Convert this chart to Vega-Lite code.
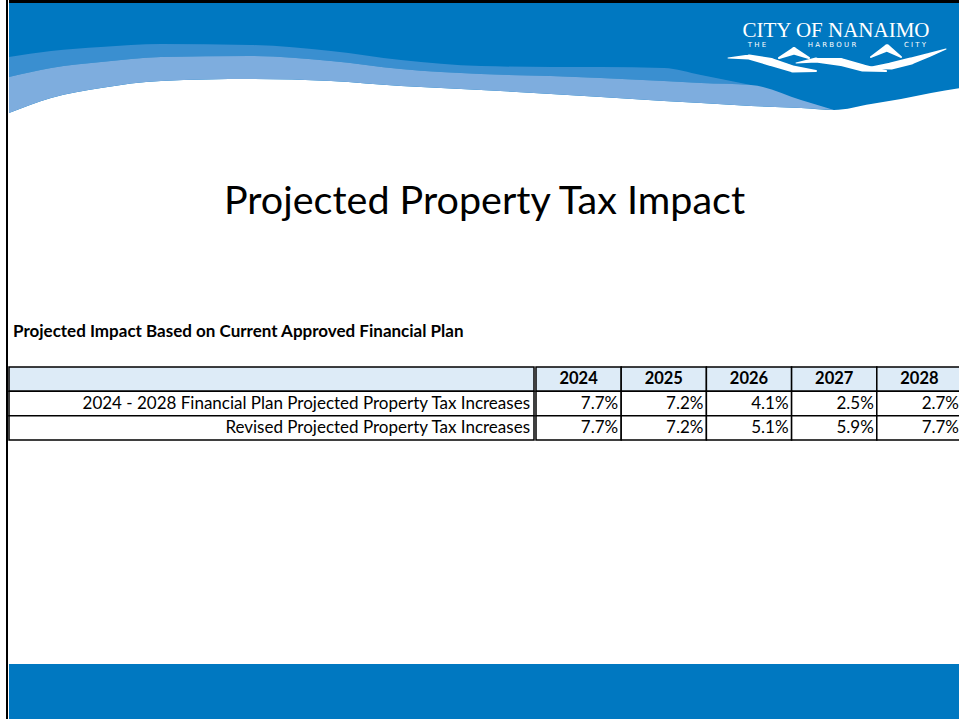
{
  "$schema": "https://vega.github.io/schema/vega-lite/v6.json",
  "padding": {"left": 6, "top": 0, "right": 0, "bottom": 0},
  "background": "white",
  "spacing": 0,
  "config": {"view": {"stroke": null}, "concat": {"spacing": 0}, "text": {"font": "Lato"}},
  "datasets": {
    "tax": [
      {"series": "2024 - 2028 Financial Plan Projected Property Tax Increases", "year": "2024", "value": 0.077},
      {"series": "2024 - 2028 Financial Plan Projected Property Tax Increases", "year": "2025", "value": 0.072},
      {"series": "2024 - 2028 Financial Plan Projected Property Tax Increases", "year": "2026", "value": 0.041},
      {"series": "2024 - 2028 Financial Plan Projected Property Tax Increases", "year": "2027", "value": 0.025},
      {"series": "2024 - 2028 Financial Plan Projected Property Tax Increases", "year": "2028", "value": 0.027},
      {"series": "Revised Projected Property Tax Increases", "year": "2024", "value": 0.077},
      {"series": "Revised Projected Property Tax Increases", "year": "2025", "value": 0.072},
      {"series": "Revised Projected Property Tax Increases", "year": "2026", "value": 0.051},
      {"series": "Revised Projected Property Tax Increases", "year": "2027", "value": 0.059},
      {"series": "Revised Projected Property Tax Increases", "year": "2028", "value": 0.077}
    ],
    "bands": [
      {"band": "medium", "x": 8, "y": 57, "y2": 77},
      {"band": "medium", "x": 50, "y": 51, "y2": 68},
      {"band": "medium", "x": 100, "y": 47, "y2": 62},
      {"band": "medium", "x": 160, "y": 44, "y2": 57},
      {"band": "medium", "x": 250, "y": 45, "y2": 56},
      {"band": "medium", "x": 330, "y": 51, "y2": 61},
      {"band": "medium", "x": 400, "y": 60, "y2": 69},
      {"band": "medium", "x": 480, "y": 66, "y2": 74},
      {"band": "medium", "x": 550, "y": 67, "y2": 76},
      {"band": "medium", "x": 600, "y": 67, "y2": 78},
      {"band": "medium", "x": 663, "y": 68, "y2": 81},
      {"band": "medium", "x": 700, "y": 75, "y2": 83},
      {"band": "medium", "x": 730, "y": 81, "y2": 84},
      {"band": "medium", "x": 750, "y": 85, "y2": 85},
      {"band": "light", "x": 8, "y": 77, "y2": 113},
      {"band": "light", "x": 50, "y": 68, "y2": 98},
      {"band": "light", "x": 100, "y": 62, "y2": 88},
      {"band": "light", "x": 160, "y": 57, "y2": 81},
      {"band": "light", "x": 250, "y": 56, "y2": 79},
      {"band": "light", "x": 330, "y": 61, "y2": 81},
      {"band": "light", "x": 400, "y": 69, "y2": 86},
      {"band": "light", "x": 480, "y": 74, "y2": 90},
      {"band": "light", "x": 550, "y": 76, "y2": 94},
      {"band": "light", "x": 600, "y": 78, "y2": 97},
      {"band": "light", "x": 663, "y": 81, "y2": 101},
      {"band": "light", "x": 700, "y": 83, "y2": 103},
      {"band": "light", "x": 750, "y": 85, "y2": 106},
      {"band": "light", "x": 800, "y": 100, "y2": 108},
      {"band": "light", "x": 833, "y": 110, "y2": 110}
    ],
    "shore": [
      {"x": 8, "y": 113}, {"x": 50, "y": 98}, {"x": 100, "y": 88}, {"x": 160, "y": 81},
      {"x": 250, "y": 79}, {"x": 330, "y": 81}, {"x": 400, "y": 86}, {"x": 480, "y": 90},
      {"x": 550, "y": 94}, {"x": 600, "y": 97}, {"x": 663, "y": 101}, {"x": 700, "y": 103},
      {"x": 750, "y": 106}, {"x": 800, "y": 108}, {"x": 833, "y": 110}, {"x": 870, "y": 104},
      {"x": 900, "y": 99}, {"x": 930, "y": 93}, {"x": 959, "y": 88}
    ],
    "waves": [
      {"id": "w1", "x": 727, "y": 58, "w": 1}, {"id": "w1", "x": 748, "y": 57, "w": 5},
      {"id": "w1", "x": 770, "y": 62, "w": 8}, {"id": "w1", "x": 792, "y": 69, "w": 7},
      {"id": "w1", "x": 815, "y": 71, "w": 2},
      {"id": "w2", "x": 795, "y": 63, "w": 1}, {"id": "w2", "x": 815, "y": 60, "w": 5},
      {"id": "w2", "x": 840, "y": 62, "w": 8}, {"id": "w2", "x": 862, "y": 68, "w": 7},
      {"id": "w2", "x": 885, "y": 71, "w": 2},
      {"id": "w3", "x": 868, "y": 68, "w": 2}, {"id": "w3", "x": 890, "y": 66, "w": 7},
      {"id": "w3", "x": 910, "y": 61, "w": 7}, {"id": "w3", "x": 928, "y": 55, "w": 4},
      {"id": "w3", "x": 945, "y": 49, "w": 1},
      {"id": "p1", "x": 778, "y": 58, "w": 2}, {"id": "p1", "x": 793, "y": 51, "w": 7},
      {"id": "p1", "x": 808, "y": 58, "w": 2},
      {"id": "p2", "x": 870, "y": 57, "w": 2}, {"id": "p2", "x": 886, "y": 48, "w": 7},
      {"id": "p2", "x": 900, "y": 57, "w": 2}
    ],
    "logo": [
      {"x": 835, "y": 37, "text": "CITY OF NANAIMO", "kind": "name"},
      {"x": 756, "y": 47, "text": "T H E", "kind": "tag"},
      {"x": 831, "y": 47, "text": "H A R B O U R", "kind": "tag"},
      {"x": 914, "y": 47, "text": "C I T Y", "kind": "tag"}
    ]
  },
  "hconcat": [
    {
      "width": 2, "height": 719,
      "data": {"values": [{}]},
      "mark": {"type": "rect", "color": "#000000"},
      "encoding": {}
    },
    {
      "spacing": 0,
      "vconcat": [
        {
          "width": 951, "height": 3,
          "data": {"values": [{}]},
          "mark": {"type": "rect", "color": "#000000"},
          "encoding": {}
        },
        {
          "width": 951, "height": 122,
          "view": {"fill": "#0078C1"},
          "layer": [
            {
              "data": {"name": "shore"},
              "mark": {"type": "area", "color": "white", "interpolate": "monotone", "clip": true},
              "encoding": {
                "x": {"field": "x", "type": "quantitative", "scale": {"domain": [8, 959], "nice": false, "zero": false}, "axis": null},
                "y": {"field": "y", "type": "quantitative", "scale": {"domain": [3, 125], "nice": false, "zero": false, "reverse": true}, "axis": null},
                "y2": {"datum": 125}
              }
            },
            {
              "data": {"name": "bands"},
              "mark": {"type": "area", "interpolate": "monotone", "clip": true},
              "encoding": {
                "x": {"field": "x", "type": "quantitative", "axis": null},
                "y": {"field": "y", "type": "quantitative", "stack": null, "axis": null},
                "y2": {"field": "y2"},
                "color": {"field": "band", "type": "nominal", "scale": {"domain": ["medium", "light"], "range": ["#3A8FD0", "#7EADDE"]}, "legend": null}
              }
            },
            {
              "data": {"name": "waves"},
              "mark": {"type": "trail", "color": "white", "clip": true},
              "encoding": {
                "x": {"field": "x", "type": "quantitative", "axis": null},
                "y": {"field": "y", "type": "quantitative", "axis": null},
                "detail": {"field": "id"},
                "size": {"field": "w", "type": "quantitative", "scale": null, "legend": null}
              }
            },
            {
              "data": {"name": "logo"},
              "transform": [{"filter": "datum.kind == 'name'"}],
              "mark": {"type": "text", "color": "white", "font": "Liberation Serif", "fontSize": 21, "align": "center", "baseline": "alphabetic"},
              "encoding": {
                "x": {"field": "x", "type": "quantitative", "axis": null},
                "y": {"field": "y", "type": "quantitative", "axis": null},
                "text": {"field": "text"}
              }
            },
            {
              "data": {"name": "logo"},
              "transform": [{"filter": "datum.kind == 'tag'"}],
              "mark": {"type": "text", "color": "white", "font": "DejaVu Sans", "fontSize": 7, "align": "center", "baseline": "alphabetic"},
              "encoding": {
                "x": {"field": "x", "type": "quantitative", "axis": null},
                "y": {"field": "y", "type": "quantitative", "axis": null},
                "text": {"field": "text"}
              }
            }
          ]
        },
        {
          "width": 951, "height": 154,
          "data": {"values": [{}]},
          "mark": {"type": "text", "font": "Lato", "fontSize": 39.5, "align": "center", "baseline": "middle", "color": "#000000"},
          "encoding": {"text": {"value": "Projected Property Tax Impact"}}
        },
        {
          "width": 951, "height": 87,
          "data": {"values": [{}]},
          "mark": {"type": "text", "font": "Lato", "fontSize": 17, "fontWeight": "bold", "align": "left", "baseline": "alphabetic", "dx": 4, "dy": -29, "color": "#000000"},
          "encoding": {
            "x": {"value": 0},
            "y": {"value": "height"},
            "text": {"value": "Projected Impact Based on Current Approved Financial Plan"}
          }
        },
        {
          "spacing": 0,
          "hconcat": [
            {
              "width": 525, "height": 73,
              "data": {"name": "tax"},
              "layer": [
                {
                  "transform": [{"aggregate": [{"op": "count", "as": "n"}]}],
                  "mark": {"type": "rect", "fill": "#DDEBF7", "stroke": "#000000", "strokeWidth": 1.5},
                  "encoding": {
                    "y": {"datum": "Year", "type": "nominal", "scale": {"domain": ["Year", "2024 - 2028 Financial Plan Projected Property Tax Increases", "Revised Projected Property Tax Increases"], "paddingInner": 0, "paddingOuter": 0}, "axis": null}
                  }
                },
                {
                  "transform": [{"aggregate": [{"op": "count", "as": "n"}], "groupby": ["series"]}],
                  "mark": {"type": "rect", "fill": "#FFFFFF", "stroke": "#000000", "strokeWidth": 1.5},
                  "encoding": {
                    "y": {"field": "series", "type": "nominal", "axis": null}
                  }
                },
                {
                  "transform": [{"aggregate": [{"op": "count", "as": "n"}], "groupby": ["series"]}],
                  "mark": {"type": "text", "font": "Lato", "fontSize": 17, "align": "right", "baseline": "middle", "dx": -4, "color": "#000000"},
                  "encoding": {
                    "x": {"value": "width"},
                    "y": {"field": "series", "type": "nominal", "bandPosition": 0.5, "axis": null},
                    "text": {"field": "series"}
                  }
                }
              ]
            },
            {
              "width": 426, "height": 73,
              "data": {"name": "tax"},
              "layer": [
                {
                  "transform": [{"aggregate": [{"op": "count", "as": "n"}], "groupby": ["year"]}],
                  "mark": {"type": "rect", "fill": "#DDEBF7", "stroke": "#000000", "strokeWidth": 1.5},
                  "encoding": {
                    "x": {"field": "year", "type": "ordinal", "scale": {"domain": ["2024", "2025", "2026", "2027", "2028"], "paddingInner": 0, "paddingOuter": 0}, "axis": null},
                    "y": {"datum": "Year", "type": "nominal", "scale": {"domain": ["Year", "2024 - 2028 Financial Plan Projected Property Tax Increases", "Revised Projected Property Tax Increases"], "paddingInner": 0, "paddingOuter": 0}, "axis": null}
                  }
                },
                {
                  "mark": {"type": "rect", "fill": "#FFFFFF", "stroke": "#000000", "strokeWidth": 1.5},
                  "encoding": {
                    "x": {"field": "year", "type": "ordinal", "axis": null},
                    "y": {"field": "series", "type": "nominal", "axis": null}
                  }
                },
                {
                  "transform": [{"aggregate": [{"op": "count", "as": "n"}], "groupby": ["year"]}],
                  "mark": {"type": "text", "font": "Lato", "fontSize": 16.5, "fontWeight": "bold", "align": "center", "baseline": "middle", "color": "#000000"},
                  "encoding": {
                    "x": {"field": "year", "type": "ordinal", "bandPosition": 0.5, "axis": null},
                    "y": {"datum": "Year", "type": "nominal", "bandPosition": 0.5, "axis": null},
                    "text": {"field": "year"}
                  }
                },
                {
                  "mark": {"type": "text", "font": "Lato", "fontSize": 17, "align": "right", "baseline": "middle", "dx": -3, "color": "#000000"},
                  "encoding": {
                    "x": {"field": "year", "type": "ordinal", "bandPosition": 1, "axis": null},
                    "y": {"field": "series", "type": "nominal", "bandPosition": 0.5, "axis": null},
                    "text": {"field": "value", "type": "quantitative", "format": ".1%"}
                  }
                }
              ]
            }
          ]
        },
        {
          "width": 951, "height": 223,
          "data": {"values": [{}]},
          "mark": {"type": "rect", "color": "#FFFFFF"},
          "encoding": {}
        },
        {
          "width": 951, "height": 56,
          "data": {"values": [{}]},
          "mark": {"type": "rect", "color": "#0078C1"},
          "encoding": {}
        }
      ]
    }
  ]
}
